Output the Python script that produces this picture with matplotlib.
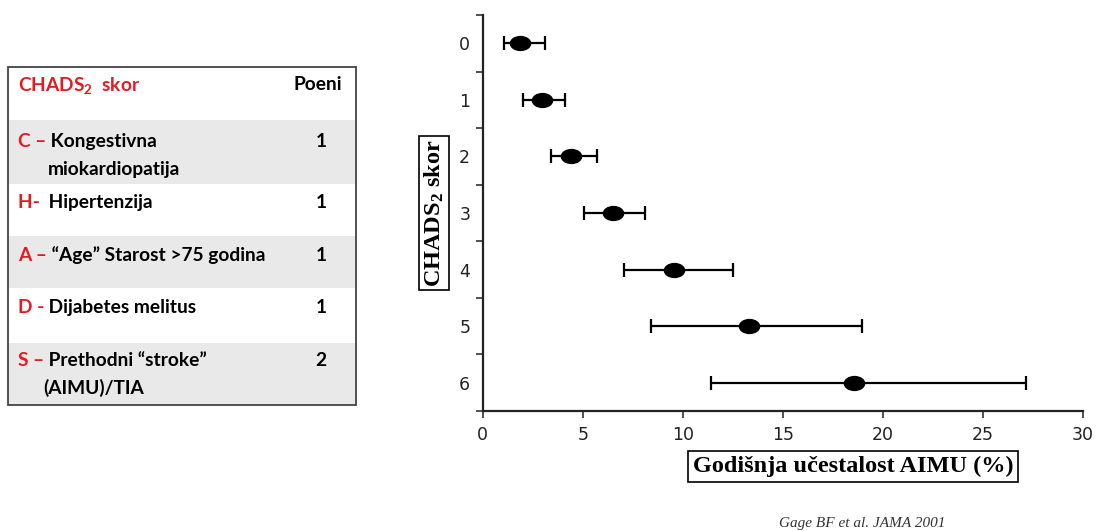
import numpy as np
import matplotlib
matplotlib.use("Agg")
import matplotlib.pyplot as plt
from matplotlib.path import Path
from matplotlib.transforms import Affine2D
from matplotlib.patches import Rectangle

plt.rcParams["mathtext.default"] = "regular"

# data
scores = [0, 1, 2, 3, 4, 5, 6]
rate = [1.87, 2.95, 4.4, 6.53, 9.57, 13.3, 18.58]
ci_low = [1.07, 2.03, 3.4, 5.07, 7.08, 8.4, 11.42]
ci_high = [3.13, 4.13, 5.7, 8.12, 12.53, 18.98, 27.15]
x_ticks = [0, 5, 10, 15, 20, 25, 30]

row_letters = ["C \u2013", "H- ", "A \u2013", "D -", "S \u2013"]
row_text = [["Kongestivna", "miokardiopatija"], ["Hipertenzija"],
            ["\u201cAge\u201d Starost >75 godina"], ["Dijabetes melitus"],
            ["Prethodni \u201cstroke\u201d", "(AIMU)/TIA"]]
row_points = [1, 1, 1, 1, 2]

W, H = 1098, 531
fig = plt.figure(figsize=(W / 100, H / 100), dpi=100)

# ---- forest plot ----
ax = fig.add_axes([482.7 / W, 1 - 411 / H, 600 / W, 396 / H])
rate = np.array(rate)
err = [rate - np.array(ci_low), np.array(ci_high) - rate]
ax.errorbar(rate, scores, xerr=err, fmt="none", ecolor="black",
            elinewidth=1.6, capsize=4.8, capthick=1.6)
ellipse = Path.unit_circle().transformed(Affine2D().scale(1.45, 1.0))
ax.plot(rate, scores, linestyle="none", marker=ellipse, markersize=14.5,
        color="black")

ax.set_xlim(0, 30)
ax.set_ylim(6.5, -0.5)
ax.set_xticks(x_ticks)
ax.set_yticks(scores)
ax.set_yticks(np.arange(-0.5, 7, 1), minor=True)
ax.tick_params(axis="y", which="major", length=0, pad=9, labelsize=12.5,
               labelcolor="#222222")
ax.tick_params(axis="y", which="minor", length=5, width=1.2, direction="out",
               color="#333333")
ax.tick_params(axis="x", length=5, width=1.2, pad=6, labelsize=12.5,
               labelcolor="#222222", color="#333333")
for s in ["top", "right"]:
    ax.spines[s].set_visible(False)
for s in ["left", "bottom"]:
    ax.spines[s].set_linewidth(1.6)
    ax.spines[s].set_color("#222222")

# ---- overlay in pixel coordinates ----
ov = fig.add_axes([0, 0, 1, 1], zorder=-1)
ov.set_xlim(0, W)
ov.set_ylim(H, 0)
ov.axis("off")

serif = "Liberation Serif"
ov.text(434, 213, "CHADS$_2$ skor", rotation=90, ha="center", va="center",
        family=serif, weight="bold", fontsize=17.5,
        bbox=dict(boxstyle="square,pad=0.15", fc="white", ec="black", lw=1.2))
ov.text(853, 466.5, "Godi\u0161nja u\u010destalost AIMU (%)", ha="center",
        va="center", family=serif, weight="bold", fontsize=17.5,
        bbox=dict(boxstyle="square,pad=0.2", fc="white", ec="black", lw=1.2))
ov.text(862, 523, "Gage BF et al. JAMA 2001", ha="center", va="center",
        family=serif, style="italic", fontsize=11, color="#333333")

# ---- table ----
red = "#e31b23"
sans = "Lato"
tx0, tx1 = 8, 356
row_edges = [67, 120, 184, 236, 288, 343, 405]
for i in range(len(row_edges) - 1):
    fc = "#e9e9e9" if i % 2 == 1 else "white"
    ov.add_patch(Rectangle((tx0, row_edges[i]), tx1 - tx0,
                           row_edges[i + 1] - row_edges[i], fc=fc, ec="none"))
ov.add_patch(Rectangle((tx0, row_edges[0]), tx1 - tx0,
                       row_edges[-1] - row_edges[0], fc="none",
                       ec="#444444", lw=1.3))

fs = 13.8
ov.text(18, 85, "CHADS$_2$  skor", color=red, family=sans, weight="bold",
        fontsize=fs, va="center")
ov.text(318, 85, "Poeni", color="black", family=sans, weight="bold",
        fontsize=fs, va="center", ha="center")

line_y = [147, 208, 261, 313, 366]
second_x = [48, 0, 0, 0, 43]
for i in range(len(row_letters)):
    lt = ov.text(18, line_y[i], row_letters[i], color=red, family=sans,
                 weight="bold", fontsize=fs, va="baseline")
    ov.annotate(" " + row_text[i][0], xy=(1, 0), xycoords=lt,
                va="bottom", ha="left", color="black", family=sans,
                weight="bold", fontsize=fs)
    if len(row_text[i]) > 1:
        ov.text(second_x[i], line_y[i] + 28, row_text[i][1], color="black",
                family=sans, weight="bold", fontsize=fs, va="baseline")
    ov.text(321, line_y[i], str(row_points[i]), color="black", family=sans,
            weight="bold", fontsize=fs, va="baseline", ha="center")

fig.savefig("out.png", dpi=100)
